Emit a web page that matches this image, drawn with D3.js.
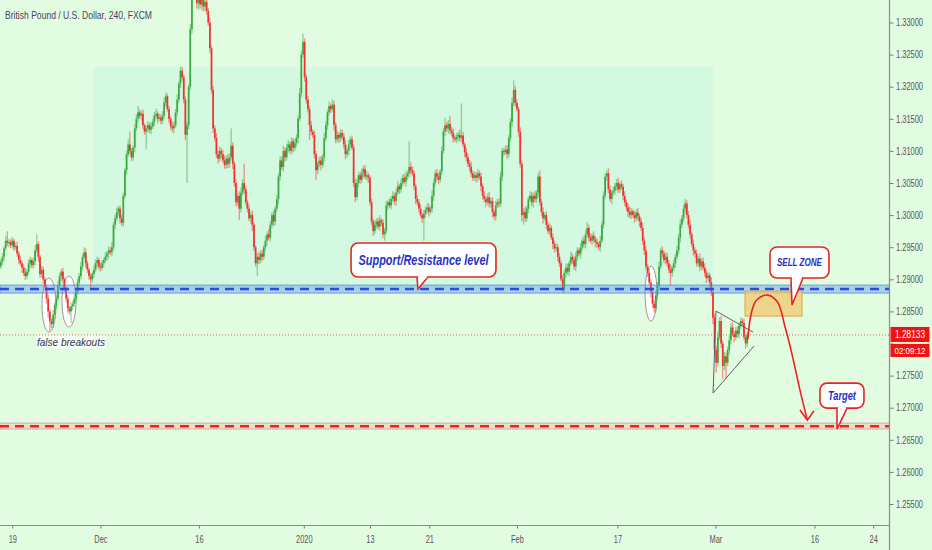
<!DOCTYPE html>
<html><head><meta charset="utf-8">
<script src="https://cdn.jsdelivr.net/npm/d3@7"></script>
<style>body{margin:0;background:#e2fce2;} svg{display:block}</style>
</head><body><svg id="c" width="932" height="550"></svg>
<script>
// ---------- DATA ----------
const title = "British Pound / U.S. Dollar, 240, FXCM";
const BASE = 1.2, PIP = 0.0001;          // prices stored as pips above 1.2000
const barsPerDay = 6;                     // 240-minute bars
const firstOpen = 920;
const closes = [
927,935,948,960,957,958,953,960,950,952,
940,930,925,918,910,905,912,925,930,922,
928,945,955,935,908,915,900,888,870,850,
835,830,845,860,870,890,905,912,900,885,
870,855,850,858,862,870,880,895,905,920,
935,942,925,915,905,900,908,915,925,930,
920,918,925,930,935,940,945,942,950,985,
995,1005,1010,995,988,1030,1070,1095,1110,1100,
1090,1105,1135,1150,1160,1155,1158,1140,1130,1135,
1140,1133,1138,1145,1155,1158,1150,1152,1147,1155,
1175,1185,1165,1150,1138,1135,1140,1160,1180,1205,
1225,1215,1180,1125,1140,1200,1290,1380,1360,1345,
1330,1340,1328,1335,1325,1332,1318,1300,1260,1195,
1135,1120,1095,1088,1100,1095,1085,1078,1088,1080,
1090,1108,1080,1050,1020,1030,1010,1035,1050,1040,
1020,1010,995,1000,985,950,925,935,930,940,
935,950,960,970,965,985,1000,990,1010,1025,
1060,1085,1075,1100,1090,1105,1110,1100,1115,1105,
1112,1120,1150,1190,1250,1270,1215,1180,1165,1140,
1130,1125,1095,1070,1080,1085,1078,1090,1120,1140,
1160,1170,1165,1172,1140,1118,1125,1120,1128,1122,
1110,1095,1100,1110,1118,1105,1050,1028,1050,1062,
1055,1065,1072,1060,1062,1058,1020,990,975,985,
990,982,992,988,970,975,1015,1020,1015,1025,
1030,1022,1035,1045,1040,1050,1058,1052,1060,1065,
1075,1070,1065,1045,1025,1020,1010,1000,995,1002,
1008,1012,1005,1010,1030,1050,1065,1060,1055,1068,
1100,1130,1140,1135,1142,1132,1128,1120,1118,1122,
1125,1120,1124,1110,1098,1090,1080,1075,1065,1058,
1062,1058,1065,1060,1045,1030,1025,1020,1028,1018,
1022,1005,998,1015,1020,1018,1060,1100,1098,1102,
1095,1120,1145,1175,1195,1175,1165,1130,1080,1000,
1005,995,1010,1025,1030,1020,1030,1025,1035,1060,
1020,1005,995,1000,985,975,980,965,955,948,
950,935,925,900,885,910,918,912,925,935,
930,920,935,945,940,950,960,955,970,980,
965,960,968,962,958,955,950,960,985,1030,
1060,1065,1040,1025,1035,1038,1045,1050,1040,1048,
1044,1030,1020,1012,1005,1000,1006,1000,995,1004,
998,990,980,960,945,920,910,895,880,862,
855,875,890,920,945,940,930,935,925,915,
910,918,925,935,945,965,985,995,1010,1018,
1000,985,970,955,945,940,925,932,920,928,
918,910,902,906,895,880,840,790,770,810,
835,800,765,780,770,790,805,825,815,810,
820,815,828,835,832,810,800,813.3];
const wickUp = [
5,6,4,8,15,5,4,6,3,5,7,4,6,3,5,8,4,6,5,3,
6,8,15,4,3,6,5,3,4,6,3,5,7,4,6,8,5,4,6,3,
4,5,3,6,5,7,4,6,5,7,5,8,6,4,3,5,4,7,6,5,
4,6,5,3,7,4,6,5,8,4,6,7,5,4,6,5,3,6,8,20,
5,4,6,7,10,5,4,6,3,5,6,4,7,5,6,8,4,6,5,7,
8,6,4,5,3,7,6,5,8,4,6,6,4,5,5,4,8,100,30,15,
10,12,8,10,6,9,8,5,7,4,6,5,8,6,7,5,6,8,5,7,
6,27,5,4,6,5,7,8,6,30,5,4,6,5,7,4,3,6,8,5,
6,4,7,5,8,6,5,7,4,6,5,7,6,8,5,6,7,4,6,5,
7,6,5,8,6,13,5,4,6,5,7,4,6,5,3,6,7,5,8,6,
5,7,4,8,6,5,7,4,6,5,6,8,5,7,4,6,5,7,6,4,
6,8,5,6,7,4,5,6,4,7,5,6,8,4,6,5,7,4,6,5,
7,5,6,8,4,7,5,6,8,5,40,7,6,5,4,6,5,7,4,6,
5,7,6,4,8,6,5,7,6,4,7,6,12,5,6,12,5,7,4,6,
5,8,50,6,4,7,5,6,8,4,6,5,7,4,6,5,7,4,6,8,
5,6,4,7,5,6,8,5,4,6,7,5,6,8,15,6,5,4,7,5,
6,8,5,4,7,6,5,8,4,6,10,5,7,4,6,5,7,4,6,5,
7,5,6,4,6,5,7,6,4,8,5,6,7,5,4,6,5,7,6,9,
5,6,4,7,5,6,4,8,6,7,5,5,8,6,4,7,5,6,8,4,
6,5,7,4,6,8,5,4,6,5,7,4,6,8,5,6,4,7,5,6,
5,7,6,8,4,6,5,7,6,5,8,4,6,5,7,6,8,5,6,7,
5,6,8,4,7,5,6,4,8,5,6,7,5,6,4,8,5,6,7,9,
6,8,5,7,6,5,7,6,8,5,6,7,5,6,4,7,5,4];
const wickDn = [
4,5,6,3,5,7,4,5,6,4,5,6,4,8,5,6,4,5,7,5,
5,6,4,8,6,5,7,6,8,10,15,6,5,7,6,4,5,8,6,5,
6,7,5,18,6,5,7,4,6,5,6,4,7,5,6,18,5,6,4,7,
5,6,4,7,5,6,8,4,6,5,7,4,6,8,5,6,4,7,5,6,
6,5,7,4,6,5,8,6,5,28,6,5,7,4,6,5,7,4,6,5,
5,6,4,7,5,6,8,4,6,5,7,5,6,8,75,6,5,7,8,10,
8,10,6,9,7,8,6,5,8,6,7,5,6,8,5,7,4,6,5,7,
6,5,8,6,7,5,18,6,5,7,5,6,4,8,10,6,5,20,6,5,
7,5,6,8,4,6,5,7,6,5,8,6,5,7,6,5,8,4,6,7,
5,6,8,4,6,5,7,6,5,23,6,5,7,15,6,5,8,4,6,5,
7,5,6,4,8,6,5,7,6,5,6,8,5,7,6,4,6,8,5,7,
6,5,7,4,6,8,5,6,7,5,6,4,7,5,6,10,5,7,4,6,
5,6,8,4,7,5,6,4,8,5,6,7,5,6,8,5,6,4,7,35,
6,5,7,4,6,8,5,6,7,5,6,4,7,5,8,6,5,7,4,6,
7,5,6,4,8,6,5,7,6,5,4,7,6,5,8,6,5,7,4,6,
6,8,5,7,4,6,5,7,6,4,8,5,6,7,5,6,4,8,6,10,
15,6,5,7,4,6,8,5,6,7,5,6,8,4,7,5,6,4,8,6,
5,7,6,4,5,6,8,5,7,4,6,5,7,6,4,8,5,6,7,5,
6,4,7,5,8,6,5,7,4,6,5,7,6,4,8,5,6,7,5,6,
4,7,5,6,8,5,6,4,7,5,6,8,5,6,7,5,6,4,8,6,
7,5,6,8,4,6,5,7,6,5,20,6,5,7,4,6,8,5,6,7,
5,6,7,4,8,6,5,6,7,5,4,6,8,5,7,6,10,8,15,6,
5,7,20,6,25,5,7,6,4,8,5,6,7,5,6,4,8,5];

const yTicks = [1.255,1.26,1.265,1.27,1.275,1.28,1.285,1.29,1.295,1.30,1.305,1.31,1.315,1.32,1.325,1.33];
const xTickDays   = [1.25, 10.25, 20.3, 31, 37.75, 43.8, 52.75, 63, 73, 83.1, 89.1];
const xTickLabels = ["19","Dec","16","2020","13","21","Feb","17","Mar","16","24"];

const lastPrice = 1.28133, timerText = "02:09:12";
const supportLevel = 1.28848, supportBand = [1.28785, 1.2891];
const targetLevel = 1.26713, targetBand = [1.26667, 1.2676];
const rangeZone = [9.49, 72.76, 1.28848, 1.32307];      // day0, day1, priceLow, priceHigh
const sellZone  = [76.02, 81.84, 1.28427, 1.28817];
// ellipses: centerDay, centerPrice, halfWidthDays, halfHeightPrice
const ellipses = [[5.0,1.28599,0.714,0.00421],[7.04,1.28653,0.714,0.00397],[66.43,1.28778,0.612,0.00428]];
// triangle pattern lines [day, price]
const triangle = [[[73.06,1.28505],[76.84,1.28178]],[[72.76,1.27228],[76.94,1.2796]],[[72.76,1.27228],[73.06,1.28505]]];
// projected path
const arrowPath = [[76.30,1.28064],[76.70,1.28494],[77.21,1.28677],[78.30,1.28754],[79.32,1.28650],[80.10,1.28260],[80.79,1.27851],[81.63,1.27274],[82.38,1.26807]];
const arrowHead = [[81.63,1.26963],[82.38,1.26807],[83.06,1.26952]];
// callouts: text, day0, day1, priceTop, priceBottom, tipDay, tipPrice, baseDay0, baseDay1
const callouts = [
  ["Support/Resistance level", 35.82,50.61,1.29565,1.29035, 42.65,1.28848, 42.55,43.67],
  ["SELL ZONE", 78.57,84.59,1.29503,1.29020, 80.82,1.28599, 80.71,81.94],
  ["Target", 83.67,88.16,1.27383,1.26994, 85.41,1.26667, 85.41,86.43]
];
const note = ["false breakouts", 7.24, 1.28022];

// ---------- STYLE / LAYOUT ----------
const W = 932, H = 550, PR = 889.5, AX = 525.5;
const calloutStyle = {"Support/Resistance level":[14,130], "SELL ZONE":[10,45], "Target":[12,28]};

const svg = d3.select("#c");
const x = d3.scaleLinear().domain([0, 889/9.8]).range([0, 889]);
const y = d3.scaleLinear().domain([1.255, 1.33]).range([504, 22.5]);
const P = v => BASE + v*PIP;
const xb = i => x((i + 0.5)/barsPerDay);

svg.append("rect").attr("width",W).attr("height",H).attr("fill","#e2fce2");
svg.append("defs").append("clipPath").attr("id","clip")
  .append("rect").attr("x",0).attr("y",0).attr("width",PR).attr("height",AX);
const plot = svg.append("g").attr("clip-path","url(#clip)");

// range zone
plot.append("rect")
  .attr("x", x(rangeZone[0])).attr("width", x(rangeZone[1]) - x(rangeZone[0]))
  .attr("y", y(rangeZone[3])).attr("height", y(rangeZone[2]) - y(rangeZone[3]))
  .attr("fill", "#d3fae0");

// ellipses
plot.selectAll("ellipse.e").data(ellipses).join("ellipse")
  .attr("cx", d => x(d[0])).attr("cy", d => y(d[1]))
  .attr("rx", d => x(d[0]+d[2]) - x(d[0])).attr("ry", d => y(d[1]-d[3]) - y(d[1]))
  .attr("fill", "#ffffff").attr("stroke", "#9a9a9a").attr("stroke-width", 1);

// current price dotted line
plot.append("line").attr("x1",0).attr("x2",PR).attr("y1",y(lastPrice)).attr("y2",y(lastPrice))
  .attr("stroke","#e06060").attr("stroke-width",1).attr("stroke-dasharray","1,2");

// candles
const bars = closes.map((c,i) => {
  const o = i ? closes[i-1] : firstOpen;
  return {i, o:P(o), c:P(c), h:P(Math.max(o,c) + (wickUp[i] ?? 0)), l:P(Math.min(o,c) - (wickDn[i] ?? 0))};
});
const UP = "#3aa93f", DN = "#f2302f";
const cg = plot.append("g");
cg.selectAll("line").data(bars).join("line")
  .attr("x1", d => xb(d.i)).attr("x2", d => xb(d.i))
  .attr("y1", d => y(d.h)).attr("y2", d => y(d.l))
  .attr("stroke", d => d.c >= d.o ? UP : DN).attr("stroke-opacity", 0.5).attr("stroke-width", 1.3);
cg.selectAll("rect").data(bars).join("rect")
  .attr("x", d => xb(d.i) - 0.85).attr("width", 1.7)
  .attr("y", d => y(Math.max(d.o,d.c)))
  .attr("height", d => Math.max(1.2, Math.abs(y(d.o) - y(d.c))))
  .attr("fill", d => d.c >= d.o ? UP : DN);

// target band + line
plot.append("rect").attr("x",0).attr("width",PR)
  .attr("y", y(targetBand[1])).attr("height", y(targetBand[0]) - y(targetBand[1]))
  .attr("fill","rgba(245,140,140,0.25)").attr("stroke","rgba(230,110,110,0.55)").attr("stroke-width",1);
plot.append("line").attr("x1",0).attr("x2",PR).attr("y1",y(targetLevel)).attr("y2",y(targetLevel))
  .attr("stroke","#ea2424").attr("stroke-width",2.5).attr("stroke-dasharray","9,6");

// support band + line
plot.append("rect").attr("x",0).attr("width",PR)
  .attr("y", y(supportBand[1])).attr("height", y(supportBand[0]) - y(supportBand[1]))
  .attr("fill","rgba(90,150,235,0.42)").attr("stroke","rgba(70,130,230,0.7)").attr("stroke-width",1);
plot.append("line").attr("x1",0).attr("x2",PR).attr("y1",y(supportLevel)).attr("y2",y(supportLevel))
  .attr("stroke","#2a4be6").attr("stroke-width",2.5).attr("stroke-dasharray","9,6");

// sell zone
plot.append("rect")
  .attr("x", x(sellZone[0])).attr("width", x(sellZone[1]) - x(sellZone[0]))
  .attr("y", y(sellZone[3])).attr("height", y(sellZone[2]) - y(sellZone[3]))
  .attr("fill","rgba(240,200,110,0.75)").attr("stroke","#dba84a").attr("stroke-width",1);

// triangle
plot.selectAll("line.tri").data(triangle).join("line").attr("class","tri")
  .attr("x1", d => x(d[0][0])).attr("y1", d => y(d[0][1]))
  .attr("x2", d => x(d[1][0])).attr("y2", d => y(d[1][1]))
  .attr("stroke","#5a6068").attr("stroke-width",1);

// projected arrow
const ln = d3.line().x(d => x(d[0])).y(d => y(d[1]));
plot.append("path").attr("d", ln.curve(d3.curveCatmullRom)(arrowPath))
  .attr("fill","none").attr("stroke","#f02020").attr("stroke-width",1.6);
plot.append("path").attr("d", d3.line().x(d => x(d[0])).y(d => y(d[1]))(arrowHead))
  .attr("fill","none").attr("stroke","#f02020").attr("stroke-width",1.6);

// callouts
callouts.forEach(c => {
  const [t,d0,d1,pt,pb,td,tp,b0,b1] = c;
  const g = plot.append("g");
  const x0 = x(d0), x1 = x(d1), yt = y(pt), yb = y(pb);
  g.append("rect").attr("x",x0).attr("y",yt).attr("width",x1-x0).attr("height",yb-yt)
    .attr("rx",7).attr("fill","#ffffff").attr("stroke","#e52525").attr("stroke-width",1.6);
  g.append("path").attr("d", `M${x(b0)},${yb} L${x(td)},${y(tp)} L${x(b1)},${yb}`)
    .attr("fill","#ffffff").attr("stroke","#e52525").attr("stroke-width",1.6);
  g.append("line").attr("x1",x(b0)+1.2).attr("x2",x(b1)-1.2).attr("y1",yb).attr("y2",yb)
    .attr("stroke","#ffffff").attr("stroke-width",2.2);
  const [fs, tw] = calloutStyle[t];
  g.append("text").attr("x",(x0+x1)/2).attr("y",(yt+yb)/2).attr("dy","0.36em")
    .attr("text-anchor","middle").attr("font-family","Liberation Sans, Arial, sans-serif")
    .attr("font-size",fs).attr("font-style","italic").attr("font-weight","bold")
    .attr("fill","#2432c8").attr("textLength",tw).attr("lengthAdjust","spacingAndGlyphs").text(t);
});

// note
const nx = x(note[1]), ny = y(note[2]);
plot.append("rect").attr("x",nx-35).attr("y",ny-6.5).attr("width",70).attr("height",13)
  .attr("fill","rgba(255,255,255,0.55)");
plot.append("text").attr("x",nx).attr("y",ny).attr("dy","0.35em").attr("text-anchor","middle")
  .attr("font-family","Liberation Sans, Arial, sans-serif").attr("font-size",11).attr("font-style","italic")
  .attr("fill","#3c3252").attr("textLength",68).attr("lengthAdjust","spacingAndGlyphs").text(note[0]);

// axes
const axisFont = "Liberation Sans, Arial, sans-serif";
const ya = svg.append("g").attr("transform",`translate(${PR},0)`)
  .call(d3.axisRight(y).tickValues(yTicks).tickFormat(d3.format(".5f")).tickSize(4).tickPadding(2.5));
ya.select(".domain").remove();
ya.selectAll("line").attr("stroke","#777");
ya.selectAll("text").attr("fill","#555").attr("font-size",10).attr("font-family",axisFont)
  .attr("textLength",27).attr("lengthAdjust","spacingAndGlyphs");
// the last-price label covers the tick label closest to it
ya.selectAll(".tick").filter(d => Math.abs(y(d) - y(lastPrice)) < 14).select("text").remove();

const xa = svg.append("g").attr("transform",`translate(0,${AX})`)
  .call(d3.axisBottom(x).tickValues(xTickDays).tickFormat((d,i) => xTickLabels[i]).tickSize(3).tickPadding(7));
xa.select(".domain").remove();
xa.selectAll("line").attr("stroke","#777");
xa.selectAll("text").attr("fill","#555").attr("font-size",10).attr("font-family",axisFont)
  .each(function(){ const w = this.getComputedTextLength(); d3.select(this).attr("textLength", w*0.74).attr("lengthAdjust","spacingAndGlyphs"); });

svg.append("line").attr("x1",PR).attr("x2",PR).attr("y1",0).attr("y2",H).attr("stroke","#8c8c8c").attr("stroke-width",1.2);
svg.append("line").attr("x1",0).attr("x2",PR).attr("y1",AX).attr("y2",AX).attr("stroke","#8c8c8c").attr("stroke-width",1.2);

// last price labels
const ly = y(lastPrice);
svg.append("rect").attr("x",890.5).attr("y",ly-8).attr("width",39).attr("height",15).attr("fill","#f21212");
svg.append("text").attr("x",910).attr("y",ly-0.5).attr("dy","0.35em").attr("text-anchor","middle")
  .attr("fill","#fff").attr("font-size",10).attr("font-family",axisFont)
  .attr("textLength",30).attr("lengthAdjust","spacingAndGlyphs").text(d3.format(".5f")(lastPrice));
svg.append("rect").attr("x",890.5).attr("y",ly+9).attr("width",39).attr("height",13).attr("fill","#f21212");
svg.append("text").attr("x",910).attr("y",ly+16).attr("dy","0.35em").attr("text-anchor","middle")
  .attr("fill","#fff").attr("font-size",9.5).attr("font-family",axisFont)
  .attr("textLength",31).attr("lengthAdjust","spacingAndGlyphs").text(timerText);

// title
svg.append("text").attr("x",5).attr("y",18.5).attr("font-family","Liberation Sans, Arial, sans-serif")
  .attr("font-size",11).attr("fill","#4a3f63").attr("textLength",147).attr("lengthAdjust","spacingAndGlyphs").text(title);
</script></body></html>
